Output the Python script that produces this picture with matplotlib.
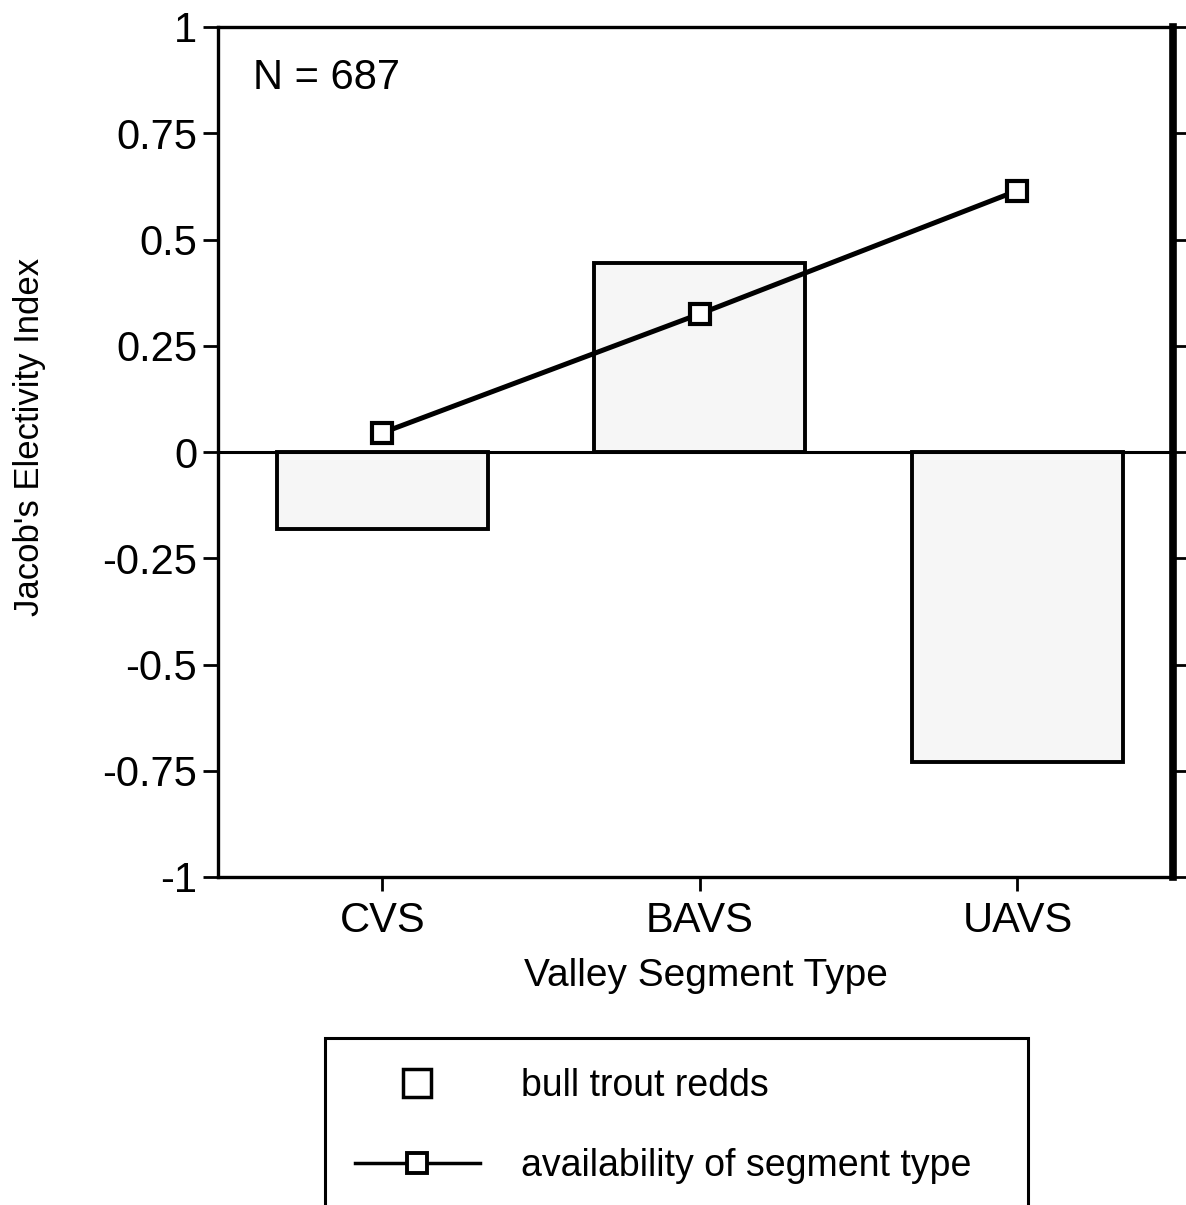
import matplotlib.pyplot as plt
from matplotlib.lines import Line2D

plt.rcParams['font.family'] = ['Liberation Sans', 'DejaVu Sans']

# Data
segments = ["CVS", "BAVS", "UAVS"]
redds = [-0.18, 0.445, -0.73]
availability = [0.045, 0.325, 0.615]
yticks = [1, 0.75, 0.5, 0.25, 0, -0.25, -0.5, -0.75, -1]
ytick_labels = ["1", "0.75", "0.5", "0.25", "0", "-0.25", "-0.5", "-0.75", "-1"]

W, H = 1186, 1205
fig = plt.figure(figsize=(W / 100, H / 100), dpi=100)
ax = fig.add_axes([218 / W, 1 - 877 / H, (1173 - 218) / W, (877 - 27) / H])

x = list(range(len(segments)))

# Bars for bull trout redds
ax.bar(x, redds, width=0.665, color="#f6f6f6", edgecolor="black",
       linewidth=2.8, zorder=2)

# Zero line
ax.axhline(0, color="black", linewidth=2.2, zorder=3)

# Availability line
ax.plot(x, availability, color="black", linewidth=3.6, marker="s",
        markersize=15, markerfacecolor="white", markeredgecolor="black",
        markeredgewidth=3, zorder=4)

ax.set_xlim(-0.517, 2.49)
ax.set_ylim(-1, 1)
ax.set_yticks(yticks)
ax.set_yticklabels(ytick_labels, fontsize=30)
ax.set_xticks(x)
ax.set_xticklabels(segments, fontsize=30)

ax.tick_params(axis="y", direction="out", length=11, width=2, pad=4,
               right=True, labelright=False)
ax.tick_params(axis="x", direction="out", length=10, width=2, pad=7)

for side in ["left", "top", "bottom"]:
    ax.spines[side].set_linewidth(2.4)
ax.spines["right"].set_linewidth(5.5)

ax.set_ylabel("Jacob's Electivity Index", fontsize=25, va="center")
ax.yaxis.set_label_coords(-0.197, 0.518)
ax.set_xlabel("Valley Segment Type", fontsize=28, va="center")
ax.xaxis.set_label_coords(0.511, -0.116)

ax.text(0.0366, 0.94, "N = 687", transform=ax.transAxes, fontsize=30,
        va="center", ha="left")

# Legend
handles = [
    Line2D([], [], linestyle="none", marker="s", markersize=20,
           markerfacecolor="white", markeredgecolor="black", markeredgewidth=2.5),
    Line2D([], [], color="black", linewidth=2.5, marker="s", markersize=14,
           markerfacecolor="white", markeredgecolor="black", markeredgewidth=2.8),
]
labels = ["bull trout redds", "availability of segment type"]
leg = fig.legend(handles, labels, loc="upper left",
                 bbox_to_anchor=(325 / W, 1 - 1038 / H, (1028 - 325) / W, 0),
                 mode="expand", borderaxespad=0, fontsize=27, frameon=True,
                 fancybox=False, framealpha=1, handlelength=3.33,
                 handletextpad=1.1, borderpad=0.8, labelspacing=1.17)
leg.get_frame().set_edgecolor("black")
leg.get_frame().set_linewidth(2.2)

fig.savefig("out.png", dpi=100)
